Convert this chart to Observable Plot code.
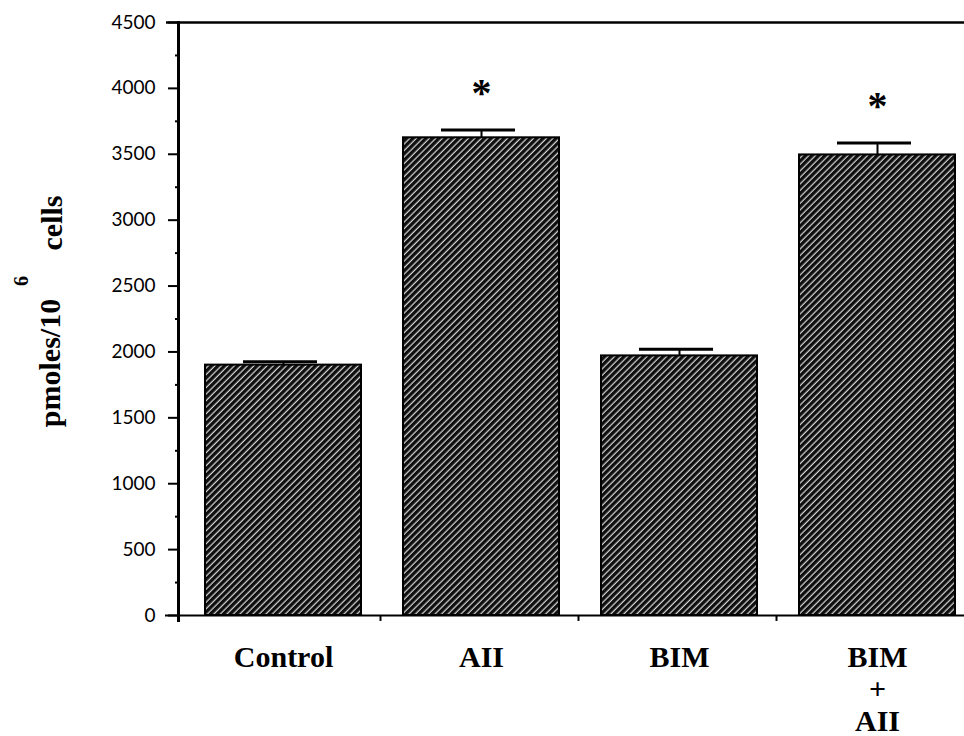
<!DOCTYPE html>
<html>
<head>
<meta charset="utf-8">
<script src="https://cdn.jsdelivr.net/npm/d3@7"></script>
<script src="https://cdn.jsdelivr.net/npm/@observablehq/plot@0.6"></script>
<style>
  html, body { margin: 0; padding: 0; background: #ffffff; }
  #chart { width: 964px; height: 736px; }
</style>
</head>
<body>
<div id="chart"></div>
<script>
// ---- data ----
const categories = ["Control", "AII", "BIM", "BIM+AII"];
const categoryLabels = ["Control", "AII", "BIM", "BIM\n+\nAII"];
const means = [1900, 3625, 1970, 3495];
const errors = [25, 60, 50, 90];
const significant = [false, true, false, true];
const majorTicks = [0, 500, 1000, 1500, 2000, 2500, 3000, 3500, 4000, 4500];
const minorTicks = [250, 750, 1250, 1750, 2250, 2750, 3250, 3750, 4250];

const data = categories.map((c, i) => ({cat: c, mean: means[i], err: errors[i], sig: significant[i]}));
const sigData = data.filter(d => d.sig);
const labelOf = new Map(categories.map((c, i) => [c, categoryLabels[i]]));

const serif = "'Liberation Serif', 'Times New Roman', serif";

const plot = Plot.plot({
  width: 964,
  height: 736,
  marginLeft: 178,
  marginRight: 0,
  marginTop: 22,
  marginBottom: 121,
  style: {background: "transparent", color: "#000"},
  x: {domain: categories, range: [204, 957], paddingInner: 0.21, paddingOuter: 0, axis: null},
  y: {domain: [0, 4500], axis: null},
  marks: [
    Plot.barY(data, {x: "cat", y: "mean", fill: "url(#hatch)", stroke: "#000", strokeWidth: 2}),
    Plot.ruleX(data, {x: "cat", y1: "mean", y2: d => d.mean + d.err, stroke: "#000", strokeWidth: 2}),
    Plot.tickY(data, {x: "cat", y: d => d.mean + d.err, stroke: "#000", strokeWidth: 3, insetLeft: 38, insetRight: 44}),
    Plot.text(sigData, {x: "cat", y: d => d.mean + d.err, text: () => "*", fontSize: 40, fontWeight: "bold", fontFamily: serif, dy: -37}),
    // baseline and top line
    Plot.ruleY([0], {stroke: "#000", strokeWidth: 2, insetLeft: -13}),
    Plot.ruleY([4500], {stroke: "#000", strokeWidth: 2.5, insetLeft: -12}),
    // small ticks between categories on the baseline
    Plot.ruleX(categories.slice(0, 3), {x: d => d, dx: 97, y1: 0, y2: -45, stroke: "#000", strokeWidth: 2}),
    // y axis
    Plot.frame({anchor: "left", stroke: "#000", strokeWidth: 3, insetBottom: -5}),
    Plot.axisY({ticks: majorTicks, label: null, tickSize: 10, tickPadding: 13, tickFormat: d => String(d), fontSize: 19, fontFamily: "Lato, 'Open Sans', sans-serif", strokeWidth: 2}),
    Plot.axisY({ticks: minorTicks, label: null, tickSize: 3, tickFormat: () => "", strokeWidth: 2}),
    // x axis labels
    Plot.axisX({label: null, tickSize: 0, tickPadding: 28, lineHeight: 1.08, tickFormat: d => labelOf.get(d), fontSize: 30, fontWeight: "bold", fontFamily: serif}),
    // y axis title pieces
    Plot.text(["pmoles/10"], {frameAnchor: "left", textAnchor: "middle", text: d => d, rotate: -90, dx: -128, dy: 44, fontSize: 30, fontWeight: "bold", fontFamily: serif}),
    Plot.text(["6"], {frameAnchor: "left", textAnchor: "middle", text: d => d, rotate: -90, dx: -157, dy: -38, fontSize: 20, fontWeight: "bold", fontFamily: serif}),
    Plot.text(["cells"], {frameAnchor: "left", textAnchor: "middle", text: d => d, rotate: -90, dx: -126, dy: -96, fontSize: 30, fontWeight: "bold", fontFamily: serif})
  ]
});

// hatch pattern definition ("/" diagonal white lines on near-black)
const svg = d3.select(plot);
const defs = svg.insert("defs", ":first-child");
const pat = defs.append("pattern")
  .attr("id", "hatch")
  .attr("patternUnits", "userSpaceOnUse")
  .attr("width", 4.6)
  .attr("height", 4.6)
  .attr("patternTransform", "rotate(45)");
pat.append("rect").attr("width", 4.6).attr("height", 4.6).attr("fill", "#0e0e0e");
pat.append("line").attr("x1", 1.2).attr("y1", 0).attr("x2", 1.2).attr("y2", 4.6)
  .attr("stroke", "#dcdcdc").attr("stroke-width", 1.2);

document.getElementById("chart").appendChild(plot);
</script>
</body>
</html>
